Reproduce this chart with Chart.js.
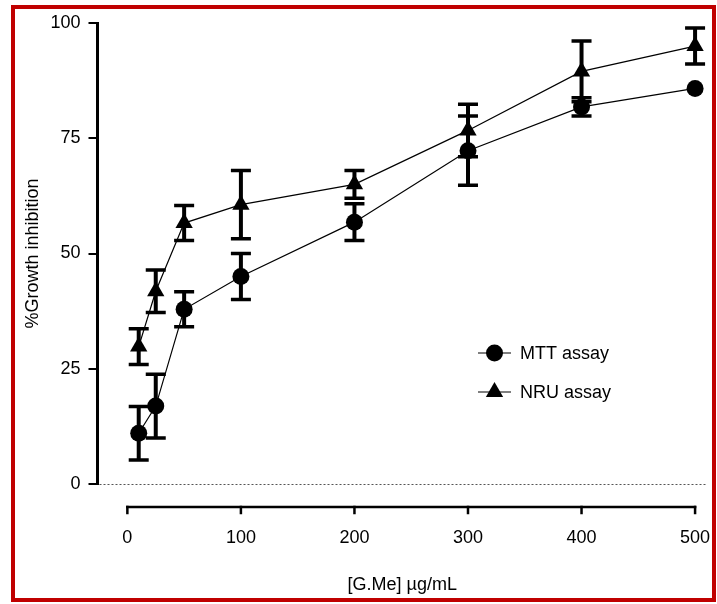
<!DOCTYPE html>
<html>
<head>
<meta charset="utf-8">
<script src="https://cdn.jsdelivr.net/npm/chart.js@4/dist/chart.umd.min.js"></script>
<style>
html,body{margin:0;padding:0;background:#fff;}
canvas{display:block;}
</style>
</head>
<body>
<canvas id="c" width="717" height="604"></canvas>
<script>
// ---- data ----
const concentrations = [10, 25, 50, 100, 200, 300, 400, 500];
const mttValues  = [11.0, 16.9, 37.9, 45.0, 56.8, 72.3, 81.8, 85.8];
const mttErrors  = [5.8, 6.9, 3.8, 5.0, 4.0, 7.5, 2.0, 0];
const nruValues  = [29.8, 41.8, 56.6, 60.6, 65.0, 76.7, 89.5, 95.0];
const nruErrors  = [3.9, 4.6, 3.8, 7.4, 3.0, 5.7, 6.6, 3.9];
const xTickValues = [0, 100, 200, 300, 400, 500];
const yTickValues = [0, 25, 50, 75, 100];
const seriesLabels = ['MTT assay', 'NRU assay'];
const xTitle = '[G.Me] µg/mL';
const yTitle = '%Growth inhibition';

const FONT = '"Liberation Sans", Arial, Helvetica, sans-serif';
Chart.defaults.font.family = FONT;
Chart.defaults.color = '#000';

const extras = {
  id: 'extras',
  beforeDraw(chart) {
    const ctx = chart.ctx;
    ctx.save();
    ctx.fillStyle = '#fff';
    ctx.fillRect(0, 0, chart.width, chart.height);
    ctx.restore();
  },
  beforeDatasetsDraw(chart) {
    const {ctx, chartArea, scales: {x, y}} = chart;
    ctx.save();
    // dotted zero line
    ctx.strokeStyle = '#555';
    ctx.lineWidth = 1;
    ctx.setLineDash([2, 2]);
    const y0 = Math.round(y.getPixelForValue(0)) + 0.5;
    ctx.beginPath();
    ctx.moveTo(chartArea.left + 2, y0);
    ctx.lineTo(chartArea.right, y0);
    ctx.stroke();
    ctx.setLineDash([]);
    // detached x axis line with ticks
    const ya = chartArea.bottom + 23;
    ctx.strokeStyle = '#000';
    ctx.lineWidth = 2.5;
    ctx.lineCap = 'square';
    ctx.beginPath();
    ctx.moveTo(x.getPixelForValue(xTickValues[0]), ya);
    ctx.lineTo(x.getPixelForValue(xTickValues[xTickValues.length - 1]), ya);
    ctx.stroke();
    xTickValues.forEach(v => {
      const px = x.getPixelForValue(v);
      ctx.beginPath();
      ctx.moveTo(px, ya);
      ctx.lineTo(px, ya + 6);
      ctx.stroke();
    });
    ctx.lineCap = 'butt';
    // error bars
    chart.data.datasets.forEach(ds => {
      const errs = ds.errors;
      if (!errs) return;
      ds.data.forEach((pt, j) => {
        const e = errs[j];
        if (!e) return;
        const px = x.getPixelForValue(pt.x);
        const pTop = y.getPixelForValue(pt.y + e);
        const pBot = y.getPixelForValue(pt.y - e);
        ctx.lineWidth = 4;
        ctx.beginPath();
        ctx.moveTo(px, pTop);
        ctx.lineTo(px, pBot);
        ctx.stroke();
        ctx.lineWidth = 3.5;
        ctx.beginPath();
        ctx.moveTo(px - 10, pTop); ctx.lineTo(px + 10, pTop);
        ctx.moveTo(px - 10, pBot); ctx.lineTo(px + 10, pBot);
        ctx.stroke();
      });
    });
    ctx.restore();
  },
  afterDraw(chart) {
    const ctx = chart.ctx;
    ctx.save();
    // legend
    const rows = [{y: 353}, {y: 392}];
    chart.data.datasets.forEach((ds, i) => {
      const ly = rows[i].y;
      ctx.strokeStyle = '#000';
      ctx.lineWidth = 1.2;
      ctx.beginPath();
      ctx.moveTo(478, ly);
      ctx.lineTo(511, ly);
      ctx.stroke();
      ctx.fillStyle = '#000';
      Chart.helpers.drawPoint(ctx, {
        pointStyle: ds.pointStyle,
        radius: ds.pointRadius,
        rotation: 0,
        borderWidth: 0
      }, 494.5, ly);
      ctx.font = '18px ' + FONT;
      ctx.textBaseline = 'middle';
      ctx.textAlign = 'left';
      ctx.fillStyle = '#000';
      ctx.fillText(ds.label, 520, ly + 1);
    });
    // red frame
    ctx.strokeStyle = '#c00000';
    ctx.lineWidth = 4;
    ctx.strokeRect(13, 7, 701, 593);
    ctx.restore();
  }
};

new Chart(document.getElementById('c').getContext('2d'), {
  type: 'scatter',
  data: {
    datasets: [
      {
        label: seriesLabels[0],
        data: concentrations.map((c, i) => ({x: c, y: mttValues[i]})),
        errors: mttErrors,
        showLine: true,
        borderColor: '#000',
        backgroundColor: '#000',
        borderWidth: 1.2,
        pointStyle: 'circle',
        pointRadius: 8.5,
        pointBorderWidth: 0,
        pointBackgroundColor: '#000',
        tension: 0,
        clip: false
      },
      {
        label: seriesLabels[1],
        data: concentrations.map((c, i) => ({x: c, y: nruValues[i]})),
        errors: nruErrors,
        showLine: true,
        borderColor: '#000',
        backgroundColor: '#000',
        borderWidth: 1.2,
        pointStyle: 'triangle',
        pointRadius: 10,
        pointBorderWidth: 0,
        pointBackgroundColor: '#000',
        tension: 0,
        clip: false
      }
    ]
  },
  options: {
    responsive: false,
    animation: false,
    devicePixelRatio: 1,
    events: [],
    layout: {padding: {top: 23, right: 8, left: 0, bottom: 0}},
    plugins: {legend: {display: false}, tooltip: {enabled: false}},
    scales: {
      x: {
        type: 'linear',
        min: -26.3,
        max: 510.5,
        afterBuildTicks: s => { s.ticks = xTickValues.map(v => ({value: v})); },
        afterFit: s => { s.height = 120; s.paddingLeft = 0; s.paddingRight = 0; },
        grid: {display: false, drawTicks: false},
        border: {display: false},
        ticks: {padding: 43, color: '#000', font: {size: 18}, autoSkip: false, maxRotation: 0},
        title: {display: true, text: xTitle, color: '#000', font: {size: 18}, padding: {top: 0, bottom: 8}}
      },
      y: {
        min: 0,
        max: 100,
        afterBuildTicks: s => { s.ticks = yTickValues.map(v => ({value: v})); },
        afterFit: s => { s.width = 97.5; s.paddingTop = 0; s.paddingBottom = 0; },
        grid: {display: true, drawOnChartArea: false, drawTicks: true, tickLength: 9, color: '#000', lineWidth: 2},
        border: {display: true, color: '#000', width: 3},
        ticks: {padding: 8, color: '#000', font: {size: 18}},
        title: {display: true, text: yTitle, color: '#000', font: {size: 18}, padding: {top: 22, bottom: 0}}
      }
    }
  },
  plugins: [extras]
});
</script>
</body>
</html>
